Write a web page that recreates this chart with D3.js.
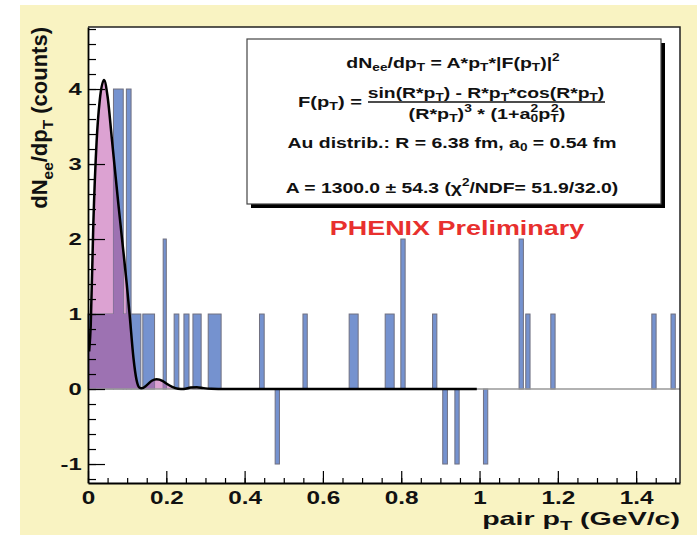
<!DOCTYPE html>
<html>
<head>
<meta charset="utf-8">
<script src="https://cdn.jsdelivr.net/npm/d3@7"></script>
<style>
  body { margin: 0; background: #fff; }
  text { font-family: "Liberation Sans", Arial, Helvetica, sans-serif; font-weight: bold; }
</style>
</head>
<body>
<div id="chart"></div>
<script>
// histogram of the data (bin edges and counts)
const binLo  = [0.000, 0.065, 0.090, 0.098, 0.110, 0.140, 0.192, 0.220, 0.245, 0.268, 0.307, 0.438, 0.478,
                0.549, 0.667, 0.759, 0.799, 0.880, 0.906, 0.937, 1.010, 1.101, 1.118, 1.182, 1.440, 1.489];
const binHi  = [0.065, 0.090, 0.098, 0.110, 0.135, 0.170, 0.200, 0.232, 0.258, 0.289, 0.340, 0.450, 0.489,
                0.560, 0.690, 0.782, 0.810, 0.891, 0.918, 0.948, 1.021, 1.112, 1.129, 1.193, 1.451, 1.500];
const counts = [1, 4, 1, 4, 1, 1, 2, 1, 1, 1, 1, 1, -1,
                1, 1, 1, 2, 1, -1, -1, -1, 2, 1, 1, 1, 1];

// fitted curve, sampled by eye
const fitPt  = [0.003, 0.007, 0.0136, 0.022, 0.030, 0.041, 0.050, 0.0605, 0.0775, 0.090, 0.099, 0.107, 0.116, 0.124, 0.131,
                0.137, 0.150, 0.163, 0.175, 0.190, 0.201, 0.215, 0.230, 0.245, 0.262, 0.278, 0.295, 0.315, 0.350, 0.993];
const fitVal = [0.5, 0.85, 2.2, 3.3, 3.85, 4.12, 3.9, 3.36, 2.47, 1.85, 1.4, 0.95, 0.42, 0.12, 0.02,
                0.01, 0.05, 0.11, 0.13, 0.11, 0.07, 0.03, 0.005, 0.0, 0.02, 0.025, 0.012, 0.003, 0.0, 0.0];

const xMajor = [0, 0.2, 0.4, 0.6, 0.8, 1, 1.2, 1.4];
const xLabels = ["0", "0.2", "0.4", "0.6", "0.8", "1", "1.2", "1.4"];
const yMajor = [-1, 0, 1, 2, 3, 4];
const yLabels = ["-1", "0", "1", "2", "3", "4"];

const W = 697, H = 535;
const pL = 88, pR = 680, pT = 27, pB = 483;

const svg = d3.select("#chart").append("svg")
    .attr("width", W)
    .attr("height", H);

// canvas background
svg.append("rect")
    .attr("x", 20).attr("y", 5)
    .attr("width", W - 20).attr("height", H - 5)
    .attr("fill", "#f9f3c2");

svg.append("rect")
    .attr("x", pL).attr("y", pT)
    .attr("width", pR - pL).attr("height", pB - pT)
    .attr("fill", "#fff");

let x = d3.scaleLinear().domain([0, 1.512]).range([pL, pR]);
let y = d3.scaleLinear().domain([-1.253, 4.827]).range([pB, pT]);

let bars = binLo.map(function (d, i) {
    return {lo: d, hi: binHi[i], n: counts[i]};
});
let fit = fitPt.map(function (d, i) {
    return {p: d, v: fitVal[i]};
});

let area = d3.area()
    .x(function (d) { return x(d.p); })
    .y0(y(0))
    .y1(function (d) { return y(d.v); })
    .curve(d3.curveMonotoneX);

let line = d3.line()
    .x(function (d) { return x(d.p); })
    .y(function (d) { return y(d.v); })
    .curve(d3.curveMonotoneX);

let fitFill = fit.filter(function (d) { return d.p <= 0.35; });

// pink fill under the fit
svg.append("path")
    .datum(fitFill)
    .attr("d", area)
    .attr("fill", "#dca2d2");

// data bars
svg.append("g").selectAll("rect")
    .data(bars)
    .enter()
    .append("rect")
    .attr("x", function (d) { return x(d.lo); })
    .attr("width", function (d) { return x(d.hi) - x(d.lo); })
    .attr("y", function (d) { return y(Math.max(0, d.n)); })
    .attr("height", function (d) { return Math.abs(y(d.n) - y(0)); })
    .attr("fill", "#7592cf")
    .attr("stroke", "#707080")
    .attr("stroke-width", 1);

// overlap of bars and fill shows purple
let clip = svg.append("clipPath").attr("id", "barclip");
clip.selectAll("rect")
    .data(bars.filter(function (d) { return d.n > 0; }))
    .enter()
    .append("rect")
    .attr("x", function (d) { return x(d.lo); })
    .attr("width", function (d) { return x(d.hi) - x(d.lo); })
    .attr("y", function (d) { return y(d.n); })
    .attr("height", function (d) { return y(0) - y(d.n); });

svg.append("path")
    .datum(fitFill)
    .attr("d", area)
    .attr("clip-path", "url(#barclip)")
    .attr("fill", "#9d72b2");

// histogram zero line
svg.append("line")
    .attr("x1", pL).attr("x2", pR)
    .attr("y1", y(0)).attr("y2", y(0))
    .attr("stroke", "#999")
    .attr("stroke-width", 1.5);

// fit curve
svg.append("path")
    .datum(fit)
    .attr("d", line)
    .attr("fill", "none")
    .attr("stroke", "#000")
    .attr("stroke-width", 2.5);

// axes
let xMinor = d3.range(0, 1.5001, 0.05);
let yMinor = d3.range(-1.2, 4.81, 0.2);

svg.append("g")
    .attr("transform", "translate(0," + pB + ")")
    .call(d3.axisBottom(x).tickValues(xMinor).tickSize(-5).tickFormat(""))
    .call(function (g) { g.select(".domain").remove(); });

svg.append("g")
    .attr("class", "x-axis")
    .attr("transform", "translate(0," + pB + ")")
    .call(d3.axisBottom(x).tickValues(xMajor).tickSize(-12).tickSizeOuter(0).tickPadding(8)
        .tickFormat(function (d, i) { return xLabels[i]; }));

svg.append("g")
    .attr("transform", "translate(" + pL + ",0)")
    .call(d3.axisLeft(y).tickValues(yMinor).tickSize(-8).tickFormat(""))
    .call(function (g) { g.select(".domain").remove(); });

svg.append("g")
    .attr("class", "y-axis")
    .attr("transform", "translate(" + pL + ",0)")
    .call(d3.axisLeft(y).tickValues(yMajor).tickSize(-17).tickSizeOuter(0).tickPadding(4.5)
        .tickFormat(function (d, i) { return yLabels[i]; }));

svg.selectAll(".tick line").attr("stroke", "#000").attr("stroke-width", 1.2);
svg.selectAll(".domain").attr("stroke", "#000").attr("stroke-width", 1.8);
svg.selectAll(".x-axis text")
    .attr("font-size", 18)
    .attr("fill", "#111")
    .attr("transform", "scale(1.35,1)");
svg.selectAll(".y-axis text")
    .attr("font-size", 17)
    .attr("fill", "#111")
    .attr("transform", "scale(1.4,1)");

// frame top/right
svg.append("path")
    .attr("d", "M" + pL + "," + pT + "H" + pR + "V" + pB)
    .attr("fill", "none")
    .attr("stroke", "#222")
    .attr("stroke-width", 1.5);

// helper for sub/superscripts
function rich(sel, segs, size) {
    segs.forEach(function (s) {
        let t = sel.append("tspan").text(s[0]);
        if (s[1] === "sub") {
            t.attr("font-size", size * 0.7).attr("baseline-shift", -size * 0.25);
        } else if (s[1] === "sup") {
            t.attr("font-size", size * 0.7).attr("baseline-shift", size * 0.45);
        }
        if (s[2]) t.attr("dx", s[2]);
    });
    return sel;
}

// place a text and stretch it sideways to the width it has in the picture
function label(ax, ay, anchor, width, segs, size, color) {
    let g = svg.append("g");
    let t = g.append("text")
        .attr("text-anchor", anchor)
        .attr("font-size", size)
        .attr("fill", color || "#111");
    rich(t, segs, size);
    let w = t.node().getBBox().width;
    g.attr("transform", "translate(" + ax + "," + ay + ") scale(" + (width / w) + ",1)");
    return g;
}

// axis titles
rich(svg.append("text")
    .attr("transform", "translate(47," + pT + ") rotate(-90)")
    .attr("text-anchor", "end")
    .attr("font-size", 22)
    .attr("fill", "#111"),
    [["dN"], ["ee", "sub"], ["/dp"], ["T", "sub"], [" (counts)"]], 22);

label(pR, 525, "end", 198, [["pair p"], ["T", "sub"], [" (GeV/c)"]], 18);

// fit parameter box
let bx = 247, by = 39, bw = 414, bh = 165;
svg.append("rect")
    .attr("x", bx + 4).attr("y", by + 4)
    .attr("width", bw).attr("height", bh)
    .attr("fill", "#000");
svg.append("rect")
    .attr("x", bx).attr("y", by)
    .attr("width", bw).attr("height", bh)
    .attr("fill", "#fff")
    .attr("stroke", "#444")
    .attr("stroke-width", 1.2);

const fs = 14.5;

label(453, 68, "middle", 214,
    [["dN"], ["ee", "sub"], ["/dp"], ["T", "sub"], [" = A*p"], ["T", "sub"], ["*|F(p"], ["T", "sub"], [")|"], ["2", "sup"]], fs);

label(298, 107, "start", 64, [["F(p"], ["T", "sub"], [") ="]], fs);
label(486, 98, "middle", 237,
    [["sin(R*p"], ["T", "sub"], [") - R*p"], ["T", "sub"], ["*cos(R*p"], ["T", "sub"], [")"]], fs);
svg.append("line")
    .attr("x1", 368).attr("x2", 605)
    .attr("y1", 102).attr("y2", 102)
    .attr("stroke", "#111")
    .attr("stroke-width", 1.3);
label(487, 119, "middle", 157,
    [["(R*p"], ["T", "sub"], [")"], ["3", "sup"], [" * (1+a"], ["0", "sub"], ["2", "sup", -5.6], ["p"], ["T", "sub"], ["2", "sup", -5.6], [")"]], fs);

label(452, 148, "middle", 329,
    [["Au distrib.: R = 6.38 fm, a"], ["0", "sub"], [" = 0.54 fm"]], fs);

label(452, 193, "middle", 333,
    [["A = 1300.0 \u00b1 54.3 (\u03c7"], ["2", "sup"], ["/NDF= 51.9/32.0)"]], fs);

label(457, 235, "middle", 255, [["PHENIX Preliminary"]], 21, "#e8302e");
</script>
</body>
</html>
